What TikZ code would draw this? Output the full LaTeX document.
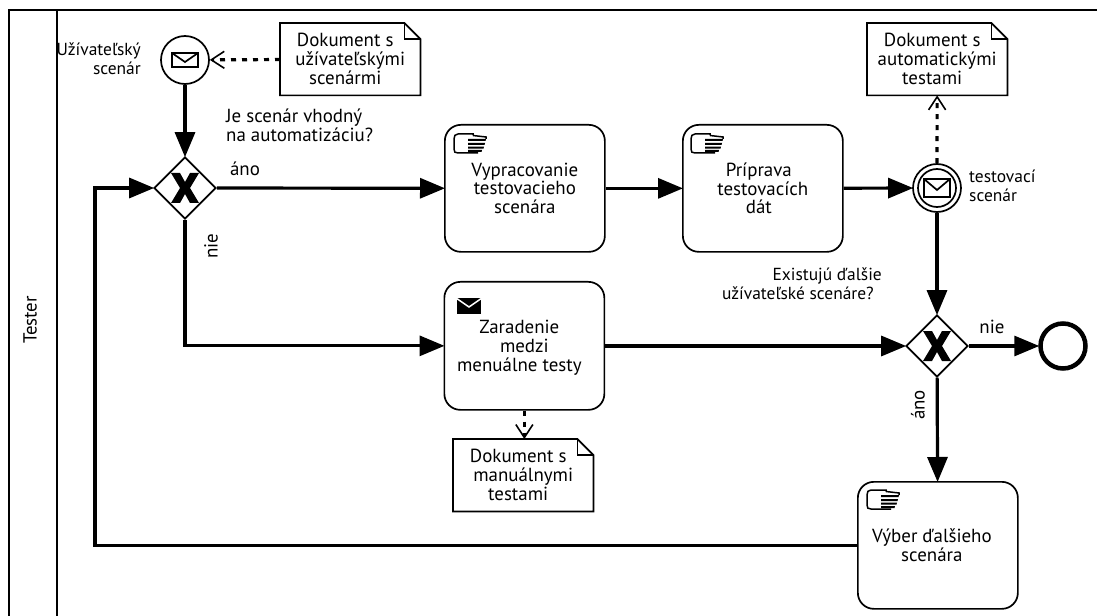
\documentclass[tikz,border=0pt]{standalone}
\usepackage{fontspec}
\setmainfont{PT Sans}
\usetikzlibrary{arrows.meta,calc,shapes.geometric}
\newcommand{\nl}{\hspace*{10bp}\\}
\tikzset{
  flow/.style={line width=3.2bp,-{Triangle[length=25bp,width=20bp]},shorten >=-1bp},
  assoc/.style={line width=3.2bp,dash pattern=on 5bp off 6bp,-{Straight Barb[length=13bp,width=17bp,line width=1.6bp]}},
  tasktext/.style={font=\fontsize{19}{19}\selectfont,align=center},
  taskbox/.style={tasktext,draw=black,line width=1.7bp,rounded corners=16bp,minimum width=160bp,minimum height=127bp,inner sep=0pt,anchor=north west},
  notebox/.style={tasktext,minimum width=140bp,minimum height=72bp,inner sep=0pt,anchor=north west},
  notedraw/.style={draw=black,line width=1.7bp,line join=miter},
  gate/.style={diamond,aspect=1,draw=black,line width=1.7bp,minimum width=62bp,minimum height=62bp,inner sep=0pt,fill=white},
  ev/.style={circle,draw=black,line width=1.7bp,minimum size=48bp,inner sep=0pt},
  lab/.style={font=\fontsize{19}{19}\selectfont,inner sep=0pt},
  smalllab/.style={font=\fontsize{17.5}{18.5}\selectfont,inner sep=0pt},
}
\newcommand{\notefold}[1]{%
  \draw[notedraw] (#1.north west) -- ($(#1.north east)+(-16,0)$) -- ($(#1.north east)+(0,16)$) -- (#1.south east) -- (#1.south west) -- cycle;
  \draw[notedraw] ($(#1.north east)+(-16,0)$) -- ($(#1.north east)+(-16,16)$) -- ($(#1.north east)+(0,16)$);
}
\newcommand{\hand}[1]{%
  \begin{scope}[shift={(#1)},line width=1.5bp]
    \draw (20,2.5) -- (20,1) -- (5,1) .. controls (2,1) and (1,3) .. (1,6) -- (1,16) .. controls (1,19) and (2,20) .. (5,20) -- (25,20);
    \draw (20,2.5) -- (33,4) -- (33,6);
    \fill (15,6) -- (33,6) -- (32.5,8) -- (15,8) -- cycle;
    \fill (15,10) -- (32,10) -- (31.5,12) -- (15,12) -- cycle;
    \fill (15,13.6) -- (31,13.6) -- (30.5,15.6) -- (15,15.6) -- cycle;
    \fill (15,17) -- (29,17) -- (28.5,19) -- (15,19) -- cycle;
  \end{scope}}
\newcommand{\envelope}[2]{%
  \begin{scope}[shift={(#1)},line width=1.7bp,line join=miter]
    \draw (-13,-#2) rectangle (13,#2);
    \draw (-13,-#2) -- (0,2) -- (13,-#2);
  \end{scope}}
\newcommand{\xmark}[1]{%
  \fill[shift={(#1)}] (-14,-15) -- (-5,-15) -- (0,-6) -- (5,-15) -- (14,-15) -- (5,0) -- (14,15) -- (5,15) -- (0,6) -- (-5,15) -- (-14,15) -- (-5,0) -- cycle;}
\begin{document}
\begin{tikzpicture}[x=1bp,y=-1bp]
\useasboundingbox (0,0) rectangle (1097,616);
% pool
\coordinate (ptl) at (9,10); \coordinate (ptr) at (1097,10);
\coordinate (pbl) at (9,616); \coordinate (ltop) at (57,10); \coordinate (lbot) at (57,616);
\draw[line width=1.8bp] (pbl) -- (ptl) -- (ptr);
\draw[line width=1.8bp] (ltop) -- (lbot);
\node[lab,rotate=90] (tester) at (30,320) {Tester};

% events / gateways
\node[ev] (start) at (185,60) {};
\node[gate] (g1) at (185,188) {};
\node[ev] (msg) at (937,188) {};
\node[circle,draw=black,line width=1.7bp,minimum size=38bp,inner sep=0pt] (msgi) at (937,188) {};
\node[gate] (g2) at (937,346) {};
\node[circle,draw=black,line width=4.5bp,minimum size=45bp,inner sep=0pt] (end) at (1063,346) {};
\envelope{185,60}{7}
\envelope{937,188}{9}
\xmark{185,188}
\xmark{937,346}

% tasks
\node[taskbox] (t1) at (444,124) {Vypracovanie\\testovacieho\\scenára};
\node[taskbox] (t2) at (682,124) {Príprava\hspace*{8bp}\\testovacích\hspace*{8bp}\\dát\hspace*{8bp}};
\node[taskbox,minimum height=128bp] (t3) at (443.5,281) {\rule{0pt}{18bp}Zaradenie\nl medzi\nl menuálne testy\hspace*{10bp}};
\node[taskbox] (t4) at (857,481) {\rule{0pt}{2bp}Výber ďalšieho\hspace*{12bp}\\scenára\hspace*{12bp}};
\hand{690,133}
\hand{453,133}
\hand{866,489}
\fill (457,298) rectangle (481,314);
\draw[white,line width=1.5bp] (456,298) -- (469,307) -- (482,298);

% notes
\node[notebox] (n1) at (280,23) {Dokument s\nl užívateľskými\nl scenármi\hspace*{10bp}};
\node[notebox] (n2) at (867,23) {Dokument s\nl automatickými\nl testami\hspace*{10bp}};
\node[notebox] (n3) at (453,439) {Dokument s\nl manuálnymi\nl testami\hspace*{10bp}};
\notefold{n1}
\notefold{n2}
\notefold{n3}

% connectors
\coordinate (g1w) at (95,188);
\draw[flow] (start) -- (g1);
\draw[flow] (g1) -- (t1);
\draw[flow] (t1) -- (t2);
\draw[flow] (t2) -- (msg);
\draw[flow] (msg) -- (g2);
\draw[flow] (g2) -- (end);
\draw[flow] (g2) -- (t4);
\draw[flow] (g1.south) -- (g1 |- t3.west) -- (t3.west);
\draw[flow] (t3.east |- g2) -- (g2);
\draw[flow] (t4.west) -- (g1w |- t4.west) -- (g1w) -- (g1);
\draw[assoc] (n1) -- (start);
\draw[assoc] (msg) -- (n2);
\draw[assoc] (t3) -- (t3 |- n3.north);

% labels
\node[smalllab,align=right,anchor=north east] (l1) at (141,43) {Užívateľský\\scenár};
\node[lab,align=left,anchor=north west] (l2) at (226,109) {Je scenár vhodný\\na automatizáciu?};
\node[lab] (l3) at (245,169) {áno};
\node[lab,rotate=90] (l4) at (211,246) {nie};
\node[smalllab,align=left,anchor=north west] (l5) at (969,170) {testovací\\scenár};
\node[smalllab,align=right,anchor=north east] (l6) at (882,268) {Existujú ďalšie\\užívateľské scenáre?\hspace*{8bp}};
\node[lab] (l7) at (992,327) {nie};
\node[lab,rotate=90] (l8) at (918,405) {áno};
\end{tikzpicture}
\end{document}
